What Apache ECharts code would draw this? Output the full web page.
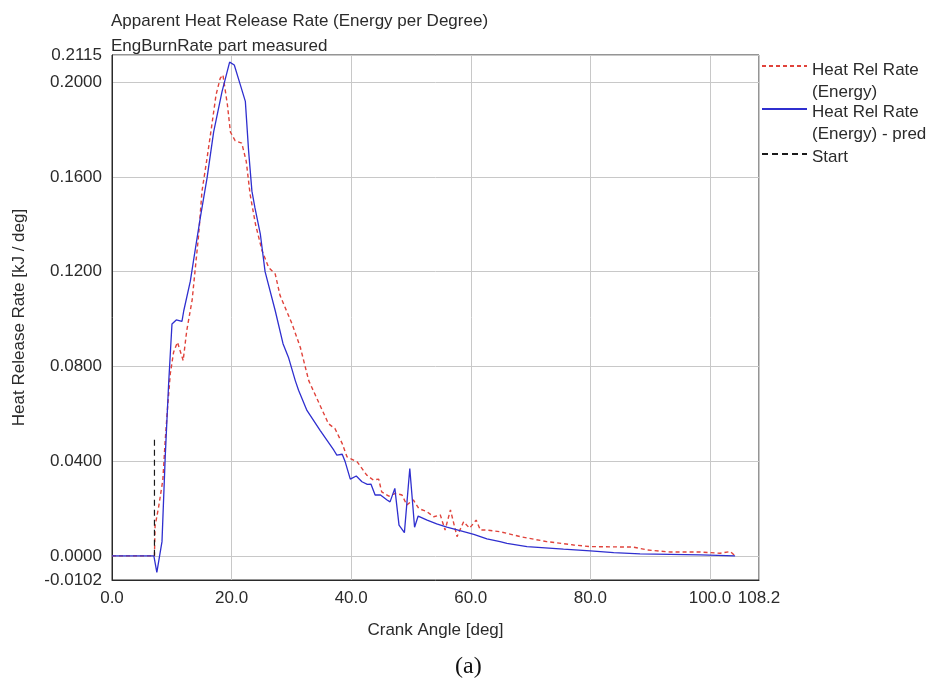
<!DOCTYPE html>
<html>
<head>
<meta charset="utf-8">
<title>Apparent Heat Release Rate</title>
<script src="https://cdn.jsdelivr.net/npm/echarts@6/dist/echarts.min.js"></script>
<style>
  html, body { margin: 0; padding: 0; background: #ffffff; }
  #chart { width: 935px; height: 682px; }
</style>
</head>
<body>
<div id="chart"></div>
<script>
// Crank angle [deg] vs heat release rate [kJ/deg], measured trace
const measuredRate = [
  [0, 0], [7.1, 0], [7.2, 0.0125], [7.8, 0.0207], [8.5, 0.032], [8.9, 0.0488],
  [9.3, 0.0628], [9.75, 0.0769], [10.3, 0.086], [10.95, 0.0902], [11.9, 0.0825],
  [12.5, 0.0951], [13.4, 0.108], [14.5, 0.1358], [15.05, 0.154], [15.9, 0.168],
  [16.7, 0.182], [17.4, 0.1947], [18.1, 0.2017], [18.55, 0.2031], [19.3, 0.1905],
  [19.8, 0.179], [20.6, 0.1753], [21.7, 0.1743], [22.45, 0.1666], [23.1, 0.1526],
  [24.0, 0.140], [25.1, 0.1288], [26.2, 0.1217], [27.3, 0.119], [28.1, 0.110],
  [30.1, 0.098], [31.5, 0.088], [32.9, 0.074], [34.8, 0.0635], [36.2, 0.0558],
  [37.3, 0.0537], [38.5, 0.0474], [39.3, 0.0418], [41.0, 0.0397], [42.6, 0.0341],
  [43.7, 0.032], [44.6, 0.0324], [45.1, 0.027], [46.3, 0.0252], [47.4, 0.0264],
  [48.5, 0.0257], [49.3, 0.0215], [50.4, 0.0236], [51.3, 0.020], [52.7, 0.0186],
  [53.8, 0.0165], [54.9, 0.0173], [55.7, 0.0109], [56.6, 0.0194], [57.7, 0.0081],
  [58.8, 0.0144], [59.8, 0.0117], [60.9, 0.0151], [61.6, 0.0109], [62.7, 0.0109],
  [64.9, 0.0102], [68.3, 0.0081], [72.7, 0.006], [77.2, 0.0046], [80.0, 0.0039],
  [87.2, 0.0037], [89.5, 0.0025], [93.4, 0.0016], [98.4, 0.0016], [101.7, 0.0011],
  [103.4, 0.0018], [104.2, 0]
];

// Predicted trace
const predictedRate = [
  [0, 0], [7.0, 0], [7.5, -0.007], [8.36, 0.006], [8.9, 0.0418], [9.47, 0.0727],
  [10.03, 0.0979], [10.75, 0.0996], [11.7, 0.099], [12.0, 0.1035], [13.1, 0.116],
  [13.9, 0.129], [14.77, 0.1428], [15.9, 0.1596], [17.0, 0.179], [18.4, 0.196],
  [19.67, 0.2085], [20.45, 0.2073], [21.45, 0.199], [22.3, 0.1919], [22.85, 0.1708],
  [23.4, 0.154], [23.9, 0.147], [24.8, 0.136], [25.6, 0.120], [27.3, 0.1035],
  [28.6, 0.0896], [29.5, 0.0839], [30.65, 0.074], [31.2, 0.0699], [32.6, 0.0614],
  [34.8, 0.053], [37.1, 0.0446], [37.6, 0.0425], [38.5, 0.0429], [39.0, 0.0397],
  [39.85, 0.0324], [40.85, 0.0337], [41.8, 0.0313], [42.7, 0.0302], [43.3, 0.0303],
  [44.0, 0.0257], [44.9, 0.0257], [46.0, 0.0236], [46.5, 0.0228], [47.3, 0.0285],
  [48.0, 0.013], [48.9, 0.0098], [49.8, 0.0369], [50.6, 0.0121], [51.2, 0.0168],
  [52.7, 0.0151], [54.3, 0.0135], [56.0, 0.0121], [58.2, 0.0106], [60.5, 0.0091],
  [62.7, 0.0072], [64.9, 0.006], [66.05, 0.0053], [69.4, 0.0039], [75.5, 0.0028],
  [80.0, 0.0021], [83.9, 0.0014], [88.3, 0.0008], [98.4, 0.0004], [104.2, 0]
];

// Start-of-combustion marker
const startMarker = [[7.1, 0], [7.1, 0.0497]];

// Axis ranges and labelled ticks
const xRange = [0, 108.2];
const yRange = [-0.0102, 0.2115];
const xTicks = [0, 20, 40, 60, 80, 100, 108.2];
const yTicks = [-0.0102, 0, 0.04, 0.08, 0.12, 0.16, 0.2, 0.2115];

const seriesNames = ['Heat Rel Rate (Energy)', 'Heat Rel Rate (Energy) - pred', 'Start'];
// Legend text wrapped over lines as displayed
const legendLines = {
  'Heat Rel Rate (Energy)': ['Heat Rel Rate', '(Energy)'],
  'Heat Rel Rate (Energy) - pred': ['Heat Rel Rate', '(Energy) - pred'],
  'Start': ['Start']
};

const FONT = '"Liberation Sans", Arial, sans-serif';
const TEXT = '#2b2b2b';
const FS = 17;

const chart = echarts.init(document.getElementById('chart'), null, { renderer: 'canvas' });

// One legend block per series; a spacer line keeps the first text line level with the icon
function legendAt(name, top, spacer) {
  return {
    data: [name],
    left: 761,
    top: top,
    padding: 0,
    itemWidth: 45,
    itemHeight: 10,
    selectedMode: false,
    itemStyle: { opacity: 0 },
    formatter: n => '{pad| }\n' + legendLines[n].map(s => '{t|' + s + '}').join('\n'),
    textStyle: {
      fontFamily: FONT,
      fontSize: FS,
      color: TEXT,
      rich: {
        pad: { lineHeight: spacer, fontSize: 2 },
        t: { fontFamily: FONT, fontSize: FS, color: TEXT, lineHeight: 22 }
      }
    }
  };
}

chart.setOption({
  animation: false,
  backgroundColor: '#ffffff',
  title: {
    text: 'Apparent Heat Release Rate (Energy per Degree)',
    subtext: 'EngBurnRate part measured',
    left: 111,
    top: 12,
    padding: 0,
    itemGap: 6,
    textStyle: { fontFamily: FONT, fontSize: FS, fontWeight: 'normal', color: TEXT, lineHeight: 19 },
    subtextStyle: { fontFamily: FONT, fontSize: FS, color: TEXT, lineHeight: 19 }
  },
  legend: [
    legendAt(seriesNames[0], 43, 30),
    legendAt(seriesNames[1], 86, 28),
    legendAt(seriesNames[2], 142, 6)
  ],
  grid: {
    left: 112,
    top: 55,
    width: 647,
    height: 525,
    show: true,
    borderColor: '#2a2a2a',
    borderWidth: 1,
    containLabel: false
  },
  xAxis: {
    type: 'value',
    min: xRange[0],
    max: xRange[1],
    name: 'Crank Angle [deg]',
    nameLocation: 'middle',
    nameGap: 42,
    nameTextStyle: { fontFamily: FONT, fontSize: FS, color: TEXT },
    axisLine: { show: true, onZero: false, lineStyle: { color: '#2a2a2a' } },
    axisTick: { show: false, customValues: xTicks },
    axisLabel: {
      customValues: xTicks,
      margin: 10,
      fontFamily: FONT,
      fontSize: FS,
      color: TEXT,
      formatter: v => Number(v).toFixed(1)
    },
    splitLine: { show: true, lineStyle: { color: '#c8c8c8', width: 1 } }
  },
  yAxis: {
    type: 'value',
    min: yRange[0],
    max: yRange[1],
    name: 'Heat Release Rate [kJ / deg]',
    nameLocation: 'middle',
    nameGap: 84,
    nameTextStyle: { fontFamily: FONT, fontSize: FS, color: TEXT },
    axisLine: { show: true, onZero: false, lineStyle: { color: '#2a2a2a' } },
    axisTick: { show: false, customValues: yTicks },
    axisLabel: {
      customValues: yTicks,
      margin: 10,
      fontFamily: FONT,
      fontSize: FS,
      color: TEXT,
      formatter: v => Number(v).toFixed(4)
    },
    splitLine: { show: true, lineStyle: { color: '#c8c8c8', width: 1 } }
  },
  series: [
    {
      name: seriesNames[0],
      type: 'line',
      data: measuredRate,
      symbol: 'none',
      lineStyle: { color: '#e0433b', width: 1.4, type: [4, 3] },
      itemStyle: { color: '#e0433b' },
      z: 2
    },
    {
      name: seriesNames[1],
      type: 'line',
      data: predictedRate,
      symbol: 'none',
      lineStyle: { color: '#2f2fcf', width: 1.3, type: 'solid' },
      itemStyle: { color: '#2f2fcf' },
      z: 3
    },
    {
      name: seriesNames[2],
      type: 'line',
      data: startMarker,
      symbol: 'none',
      lineStyle: { color: '#1a1a1a', width: 1.2, type: [6, 4] },
      itemStyle: { color: '#1a1a1a' },
      z: 4
    }
  ],
  graphic: [
    {
      type: 'text',
      left: 455,
      top: 655,
      style: {
        text: '(a)',
        font: '24px "Liberation Serif", "Times New Roman", serif',
        fill: '#111111'
      }
    }
  ]
});
</script>
</body>
</html>
